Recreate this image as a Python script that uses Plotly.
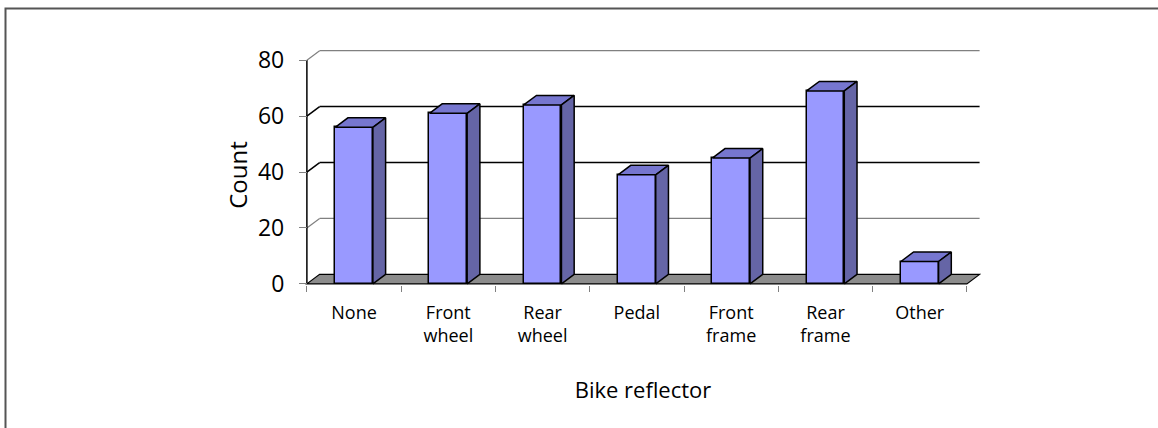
import plotly.graph_objects as go

# ---- data ----
categories = ["None", "Front<br>wheel", "Rear<br>wheel", "Pedal", "Front<br>frame", "Rear<br>frame", "Other"]
counts = [56, 61, 64, 39, 45, 69, 8]
y_ticks = [0, 20, 40, 60, 80]

# ---- styling / geometry constants ----
FRONT = "#9999FF"
TOP = "#7676CF"
SIDE = "#6565A6"
FLOOR = "#8C8C8C"
BAR_W = 0.40
DX = 0.135   # depth offset in x units
DY = 3.4     # depth offset in y units
X0, X1 = -0.52, 6.65
Y0, Y1 = -0.4, 84
FONT = "Open Sans"

n = len(categories)
xs = list(range(n))

fig = go.Figure()

# front faces
fig.add_trace(go.Bar(x=xs, y=counts, width=BAR_W, marker=dict(color=FRONT, line=dict(color="black", width=1.5)),
                     hoverinfo="skip", showlegend=False))

# top and side faces
for i, v in zip(xs, counts):
    l, r = i - BAR_W / 2, i + BAR_W / 2
    fig.add_trace(go.Scatter(x=[l, l + DX, r + DX, r, l], y=[v, v + DY, v + DY, v, v], fill="toself",
                             fillcolor=TOP, mode="lines", line=dict(color="black", width=1.5),
                             hoverinfo="skip", showlegend=False))
    fig.add_trace(go.Scatter(x=[r, r, r + DX, r + DX, r], y=[0, v, v + DY, DY, 0], fill="toself",
                             fillcolor=SIDE, mode="lines", line=dict(color="black", width=1.5),
                             hoverinfo="skip", showlegend=False))

# dummy trace for overlay axis (category boundary ticks)
fig.add_trace(go.Scatter(x=[None], y=[None], xaxis="x2", showlegend=False, hoverinfo="skip"))

shapes = []
xl, xr = -0.5, n - 0.5
# back-wall gridlines and left-wall diagonals
for g in y_ticks[1:]:
    dark = g in (40, 60)
    col = "black" if dark else "#808080"
    w = 1.5 if dark else 1.2
    shapes.append(dict(type="line", xref="x", yref="y", x0=xl + DX, x1=xr + DX, y0=g + DY, y1=g + DY,
                       line=dict(color=col, width=w), layer="below"))
    shapes.append(dict(type="line", xref="x", yref="y", x0=xl, x1=xl + DX, y0=g, y1=g + DY,
                       line=dict(color=col, width=w), layer="below"))
# floor
shapes.append(dict(type="path", xref="x", yref="y",
                   path=f"M {xl} 0 L {xr} 0 L {xr + DX} {DY} L {xl + DX} {DY} Z",
                   fillcolor=FLOOR, line=dict(color="black", width=1.2), layer="below"))
# front vertical axis line
shapes.append(dict(type="line", xref="x", yref="y", x0=xl, x1=xl, y0=0, y1=y_ticks[-1],
                   line=dict(color="black", width=1.5), layer="below"))

# figure size / margins
FW, FH = 1158, 428
L, R, T = 305, 177, 49
PLOT_H = 236
B = FH - T - PLOT_H
W = FW - L - R
def px_x(p): return (p - L) / W
def px_y(p): return (T + PLOT_H - p) / PLOT_H
# outer chart border (extends past right/bottom edge)
shapes.append(dict(type="rect", xref="paper", yref="paper", x0=px_x(5.5), x1=px_x(1175), y0=px_y(8.5), y1=px_y(445),
                   line=dict(color="#555555", width=2), fillcolor="rgba(0,0,0,0)", layer="above"))

fig.update_layout(
    width=FW, height=FH,
    margin=dict(l=L, r=R, t=T, b=B, autoexpand=False),
    plot_bgcolor="white", paper_bgcolor="white",
    showlegend=False,
    shapes=shapes,
    font=dict(family=FONT, color="black"),
    xaxis=dict(range=[X0, X1], tickmode="array", tickvals=xs, ticktext=categories, ticks="",
               showgrid=False, zeroline=False, showline=False, automargin=False,
               tickfont=dict(size=18, family=FONT), ticklabelstandoff=15,
               title=dict(text="Bike reflector", font=dict(size=22, family=FONT), standoff=36)),
    xaxis2=dict(range=[X0, X1], overlaying="x", anchor="y", side="bottom", tickmode="array",
                tickvals=[k - 0.5 for k in range(n + 1)], ticks="outside", ticklen=6, tickcolor="#808080",
                tickwidth=1.2, showticklabels=False, showgrid=False, zeroline=False, showline=False),
    yaxis=dict(range=[Y0, Y1], tickmode="array", tickvals=y_ticks, ticks="outside", ticklen=8,
               tickcolor="#808080", tickwidth=1.2, showgrid=False, zeroline=False, showline=False,
               anchor="free", position=(xl - X0) / (X1 - X0), automargin=False,
               tickfont=dict(size=23, family=FONT), ticklabelstandoff=10),
    annotations=[dict(text="Count", xref="paper", yref="y", x=px_x(238), y=39, textangle=-90,
                      showarrow=False, xanchor="center", yanchor="middle",
                      font=dict(size=24, family=FONT, color="black"))],
    bargap=0,
)

fig.write_html("out.html", config={"displayModeBar": False},
               post_script="document.body.style.margin='0px';")
